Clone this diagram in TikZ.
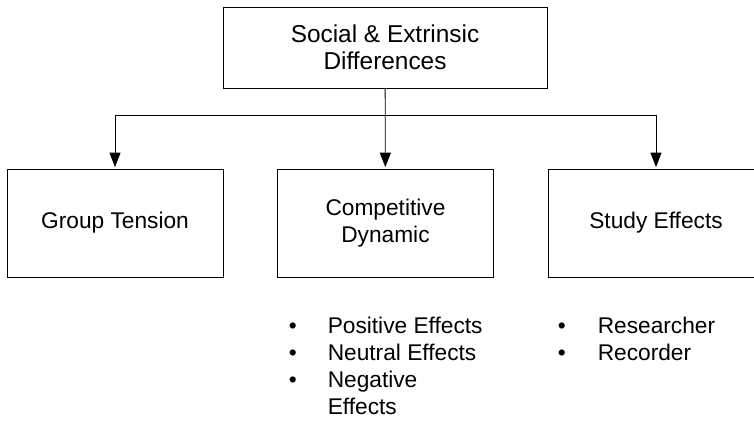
\documentclass[tikz,border=0pt]{standalone}
\usepackage{fontspec}
\setmainfont{Liberation Sans}
\usetikzlibrary{arrows.meta}

\begin{document}
\begin{tikzpicture}[x=0.5pt, y=-0.5pt]
\tikzset{ >={Triangle[length=8pt,width=6pt]}, line width=0.8pt,
  box/.style={draw, minimum width=108pt, minimum height=54pt, align=center, inner sep=0pt},
  every node/.style={font=\fontsize{11.35}{13.6}\selectfont} }
\useasboundingbox (0,0) rectangle (754,420);
\clip (0,0) rectangle (754,420);
%\draw [lightgray, dashed](0,0) grid[step=50] (754,420);

\node [box, minimum width=162pt, minimum height=40.5pt,
       font=\fontsize{12.2}{13.6}\selectfont] (SE) at (385,47.5) {Social \& Extrinsic\\Differences};

\node [box] (GT) at (115,223)   {Group Tension};
\node [box] (CD) at (385.5,223) {Competitive\\Dynamic};
\node [box] (ST) at (656,223)   {Study Effects};

\coordinate (bar) at (385,115);

\draw [->] (SE)  -- (CD);
\draw [->] (bar) -| (GT);
\draw [->] (bar) -| (ST);

\node [anchor=base west, inner sep=0pt] (PL) at (288,333)
  {\begin{tabular}[t]{@{}p{19.5pt}@{}l@{}}
   \textbullet & Positive Effects\\
   \textbullet & Neutral Effects\\
   \textbullet & Negative\\
               & Effects
   \end{tabular}};
\node [anchor=base west, inner sep=0pt] (RL) at (557,333)
  {\begin{tabular}[t]{@{}p{20pt}@{}l@{}}
   \textbullet & Researcher\\
   \textbullet & Recorder
   \end{tabular}};

\end{tikzpicture}
\end{document}
